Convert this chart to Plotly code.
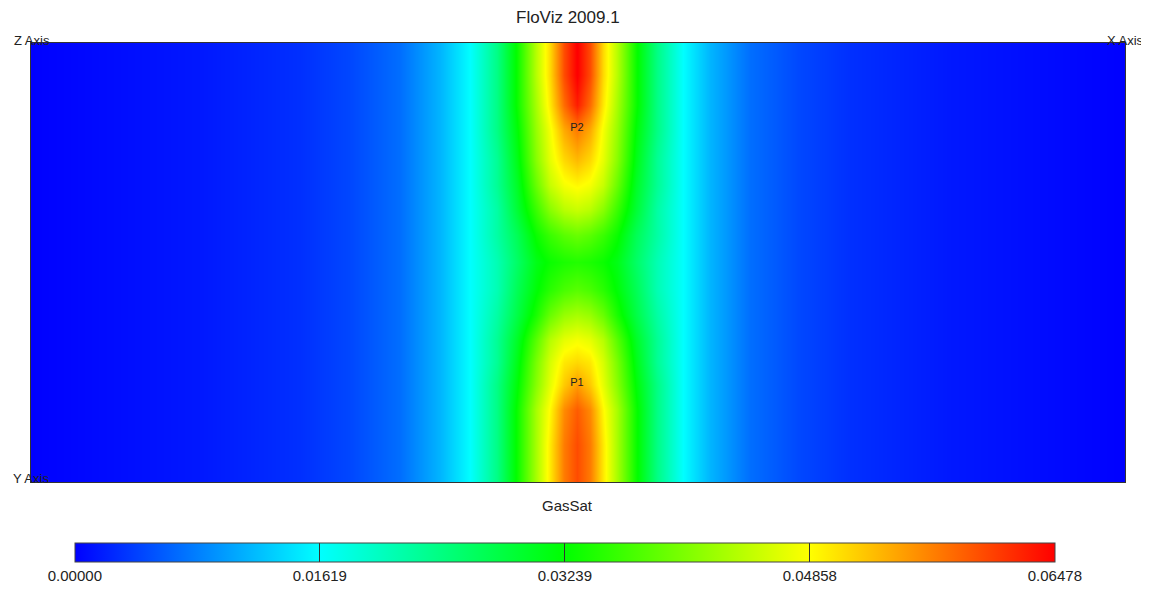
import plotly.graph_objects as go

# Grid node positions (m): x across section, y from bottom to top
x_nodes = [0, 169, 269, 319, 369, 409, 439, 466, 486, 505, 519, 533, 546,
           559, 572, 586, 605, 626, 652, 679, 719, 769, 819, 919, 1094]
y_nodes = [439, 407, 377, 352, 322, 297, 272, 247, 220, 192, 167, 142, 120,
           97, 72, 37, 0]

# GasSat values (rows follow y_nodes, columns x_nodes)
gas_sat = [
    [0.0, 0.0015, 0.003, 0.0045, 0.007, 0.0115, 0.0162, 0.024, 0.033, 0.044, 0.051, 0.060, 0.065, 0.060, 0.051, 0.044, 0.033, 0.024, 0.0162, 0.0115, 0.007, 0.0045, 0.003, 0.0015, 0.0],
    [0.0, 0.0015, 0.003, 0.0045, 0.007, 0.0115, 0.0162, 0.024, 0.033, 0.044, 0.051, 0.060, 0.065, 0.060, 0.051, 0.044, 0.033, 0.024, 0.0162, 0.0115, 0.007, 0.0045, 0.003, 0.0015, 0.0],
    [0.0, 0.0015, 0.003, 0.0045, 0.007, 0.0115, 0.0162, 0.024, 0.033, 0.043, 0.050, 0.058, 0.063, 0.058, 0.050, 0.043, 0.033, 0.024, 0.0162, 0.0115, 0.007, 0.0045, 0.003, 0.0015, 0.0],
    [0.0, 0.0015, 0.003, 0.0045, 0.007, 0.0115, 0.0162, 0.024, 0.032, 0.042, 0.048, 0.054, 0.057, 0.054, 0.048, 0.042, 0.032, 0.024, 0.0162, 0.0115, 0.007, 0.0045, 0.003, 0.0015, 0.0],
    [0.0, 0.0015, 0.003, 0.0045, 0.007, 0.0115, 0.0162, 0.023, 0.031, 0.041, 0.047, 0.051, 0.053, 0.051, 0.047, 0.041, 0.031, 0.023, 0.0162, 0.0115, 0.007, 0.0045, 0.003, 0.0015, 0.0],
    [0.0, 0.0015, 0.003, 0.0045, 0.007, 0.0115, 0.0162, 0.023, 0.030, 0.039, 0.045, 0.048, 0.049, 0.048, 0.045, 0.039, 0.030, 0.023, 0.0162, 0.0115, 0.007, 0.0045, 0.003, 0.0015, 0.0],
    [0.0, 0.0015, 0.003, 0.0045, 0.007, 0.0115, 0.0162, 0.022, 0.029, 0.036, 0.041, 0.044, 0.045, 0.044, 0.041, 0.036, 0.029, 0.022, 0.0162, 0.0115, 0.007, 0.0045, 0.003, 0.0015, 0.0],
    [0.0, 0.0015, 0.003, 0.0045, 0.007, 0.0115, 0.0162, 0.022, 0.027, 0.033, 0.036, 0.038, 0.039, 0.038, 0.036, 0.033, 0.027, 0.022, 0.0162, 0.0115, 0.007, 0.0045, 0.003, 0.0015, 0.0],
    [0.0, 0.0015, 0.003, 0.0045, 0.007, 0.0115, 0.0162, 0.021, 0.026, 0.031, 0.033, 0.034, 0.0345, 0.034, 0.033, 0.031, 0.026, 0.021, 0.0162, 0.0115, 0.007, 0.0045, 0.003, 0.0015, 0.0],
    [0.0, 0.0015, 0.003, 0.0045, 0.007, 0.0115, 0.0162, 0.021, 0.027, 0.032, 0.035, 0.037, 0.038, 0.037, 0.035, 0.032, 0.027, 0.021, 0.0162, 0.0115, 0.007, 0.0045, 0.003, 0.0015, 0.0],
    [0.0, 0.0015, 0.003, 0.0045, 0.007, 0.0115, 0.0162, 0.022, 0.028, 0.034, 0.039, 0.042, 0.043, 0.042, 0.039, 0.034, 0.028, 0.022, 0.0162, 0.0115, 0.007, 0.0045, 0.003, 0.0015, 0.0],
    [0.0, 0.0015, 0.003, 0.0045, 0.007, 0.0115, 0.0162, 0.023, 0.030, 0.038, 0.044, 0.047, 0.048, 0.047, 0.044, 0.038, 0.030, 0.023, 0.0162, 0.0115, 0.007, 0.0045, 0.003, 0.0015, 0.0],
    [0.0, 0.0015, 0.003, 0.0045, 0.007, 0.0115, 0.0162, 0.023, 0.031, 0.040, 0.046, 0.050, 0.051, 0.050, 0.046, 0.040, 0.031, 0.023, 0.0162, 0.0115, 0.007, 0.0045, 0.003, 0.0015, 0.0],
    [0.0, 0.0015, 0.003, 0.0045, 0.007, 0.0115, 0.0162, 0.024, 0.032, 0.041, 0.047, 0.052, 0.055, 0.052, 0.047, 0.041, 0.032, 0.024, 0.0162, 0.0115, 0.007, 0.0045, 0.003, 0.0015, 0.0],
    [0.0, 0.0015, 0.003, 0.0045, 0.007, 0.0115, 0.0162, 0.024, 0.033, 0.043, 0.049, 0.056, 0.059, 0.056, 0.049, 0.043, 0.033, 0.024, 0.0162, 0.0115, 0.007, 0.0045, 0.003, 0.0015, 0.0],
    [0.0, 0.0015, 0.003, 0.0045, 0.007, 0.0115, 0.0162, 0.024, 0.033, 0.043, 0.050, 0.057, 0.060, 0.057, 0.050, 0.043, 0.033, 0.024, 0.0162, 0.0115, 0.007, 0.0045, 0.003, 0.0015, 0.0],
    [0.0, 0.0015, 0.003, 0.0045, 0.007, 0.0115, 0.0162, 0.024, 0.033, 0.043, 0.050, 0.057, 0.060, 0.057, 0.050, 0.043, 0.033, 0.024, 0.0162, 0.0115, 0.007, 0.0045, 0.003, 0.0015, 0.0],
]

# Wells
well_names = ["P2", "P1"]
well_x = [546, 546]
well_y = [354, 99]

# Colour bar ticks
cbar_vals = [0.0, 0.01619, 0.03239, 0.04858, 0.06478]
cbar_text = ["0.00000", "0.01619", "0.03239", "0.04858", "0.06478"]

rainbow = [[0.0, "#0000ff"], [0.25, "#00ffff"], [0.5, "#00ff00"],
           [0.75, "#ffff00"], [1.0, "#ff0000"]]

FONT = "Liberation Sans, Arial, sans-serif"

fig = go.Figure()
fig.add_trace(go.Heatmap(
    x=x_nodes, y=y_nodes, z=gas_sat,
    zsmooth="best", zmin=0.0, zmax=0.06478,
    colorscale=rainbow, hoverinfo="skip",
    colorbar=dict(
        orientation="h", x=0.488, xanchor="center",
        y=-0.139, yanchor="top", len=0.8958, lenmode="fraction",
        thickness=19, outlinewidth=1, outlinecolor="#444",
        xpad=0, ypad=0,
        tickvals=cbar_vals, ticktext=cbar_text,
        ticks="inside", ticklen=19, tickcolor="#333", tickwidth=1,
        tickfont=dict(family=FONT, size=15, color="#222"),
    ),
))
fig.add_trace(go.Scatter(
    x=well_x, y=well_y, mode="text", text=well_names,
    textfont=dict(family=FONT, size=11, color="#222"),
    hoverinfo="skip", showlegend=False,
))

axis_common = dict(showgrid=False, zeroline=False, showticklabels=False,
                   ticks="", showline=True, linecolor="#333", linewidth=1,
                   mirror=True)
fig.update_xaxes(range=[0, 1094], **axis_common)
fig.update_yaxes(range=[0, 439], **axis_common)

annots = [
    dict(text="FloViz 2009.1", x=0.491, y=1.057, size=17),
    dict(text="GasSat", x=0.490, y=-0.0524, size=15),
]
ann_list = []
for a in annots:
    ann_list.append(dict(text=a["text"], x=a["x"], y=a["y"], xref="paper",
                         yref="paper", xanchor="center", yanchor="middle",
                         showarrow=False,
                         font=dict(family=FONT, size=a["size"], color="#222")))
for txt, xp, yp, xa in [("Z Axis", -0.0174, 1.006, "left"),
                        ("X Axis", 1.0192, 1.006, "right"),
                        ("Y Axis", -0.0183, 0.008, "left")]:
    ann_list.append(dict(text=txt, x=xp, y=yp, xref="paper", yref="paper",
                         xanchor=xa, yanchor="middle", showarrow=False,
                         font=dict(family=FONT, size=13, color="#222")))

# The page body adds an 8 px offset, so the figure is sized to compensate
fig.update_layout(
    width=1141, height=584,
    margin=dict(l=23, r=24, t=35, b=110, autoexpand=False),
    paper_bgcolor="white", plot_bgcolor="white",
    showlegend=False, annotations=ann_list,
)

fig.write_html("out.html")
